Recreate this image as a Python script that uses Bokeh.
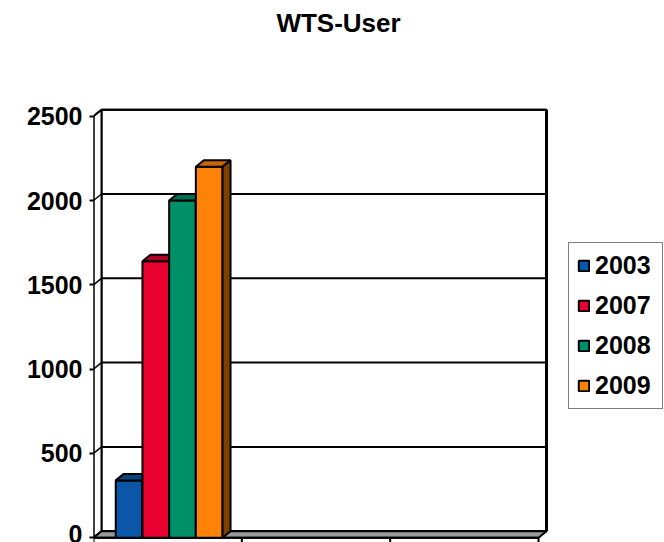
from bokeh.plotting import figure
from bokeh.models import Range1d, FixedTicker, Legend, LegendItem, Label
from bokeh.embed import file_html
from bokeh.resources import INLINE

# ---- data ----
title_text = "WTS-User"
years = ["2003", "2007", "2008", "2009"]
users = [340, 1640, 2000, 2200]
y_ticks = [0, 500, 1000, 1500, 2000, 2500]
n_groups = 3
y_max = 2500

# ---- styles ----
front_colors = ["#0B56A6", "#E8002F", "#009068", "#FF8308"]
top_colors = ["#08427F", "#B00024", "#006E50", "#C86506"]
side_colors = ["#052B55", "#75001A", "#004834", "#7F3F00"]
FONT = "Liberation Sans"

W, H = 664, 542
LEFT = 93
FW = W - LEFT
KX = 445 / 3            # px per category
KY = 421.5 / 2500       # px per unit
BOTTOM_PAD = 4.8
dx = 8 / KX             # depth offsets in data units
dy = 6.5 / KY
BW = 0.18               # bar width (category units)
CLUSTER_CENTER = 0.51

p = figure(width=W, height=H, output_backend="svg", toolbar_location=None, tools="",
           x_range=Range1d(0, FW / KX),
           y_range=Range1d(-BOTTOM_PAD / KY, (H - BOTTOM_PAD) / KY),
           x_axis_location=None,
           min_border_left=LEFT, min_border_right=0, min_border_top=0, min_border_bottom=0)
p.grid.visible = False
p.outline_line_color = None
p.background_fill_color = "white"
p.border_fill_color = "white"

# back wall
p.quad(left=[dx], right=[n_groups + dx], bottom=[dy], top=[y_max + dy],
       fill_color="white", line_color="black", line_width=2)
# gridlines on back wall
p.segment(x0=[dx] * len(y_ticks), x1=[n_groups + dx] * len(y_ticks),
          y0=[t + dy for t in y_ticks], y1=[t + dy for t in y_ticks],
          line_color="black", line_width=2)
# right edge of back wall (thicker)
p.segment(x0=[n_groups + dx], x1=[n_groups + dx], y0=[dy], y1=[y_max + dy],
          line_color="black", line_width=3)
# left wall
p.patch([0, dx, dx, 0], [0, dy, y_max + dy, y_max],
        fill_color="white", line_color="black", line_width=2)
p.segment(x0=[0] * len(y_ticks), x1=[dx] * len(y_ticks),
          y0=y_ticks, y1=[t + dy for t in y_ticks],
          line_color="black", line_width=1.5)
# floor
p.patch([0, n_groups, n_groups + dx, dx], [0, 0, dy, dy],
        fill_color="#9a9a9a", line_color="black", line_width=2)
# front axis lines
p.segment(x0=[0], x1=[0], y0=[0], y1=[y_max], line_color="black", line_width=2)
p.segment(x0=[0], x1=[n_groups], y0=[0], y1=[0], line_color="black", line_width=2)
# category boundary ticks
p.segment(x0=list(range(n_groups + 1)), x1=list(range(n_groups + 1)),
          y0=[0] * (n_groups + 1), y1=[-5 / KY] * (n_groups + 1),
          line_color="black", line_width=2)

# bars (only first category has data)
items = []
start = CLUSTER_CENTER - BW * len(years) / 2
for i, (yr, v) in enumerate(zip(years, users)):
    x0 = start + i * BW
    x1 = x0 + BW
    r = p.quad(left=[x0], right=[x1], bottom=[0], top=[v],
               fill_color=front_colors[i], line_color="black", line_width=2)
    p.patch([x0, x0 + dx, x1 + dx, x1], [v, v + dy, v + dy, v],
            fill_color=top_colors[i], line_color="black", line_width=2)
    p.patch([x1, x1 + dx, x1 + dx, x1], [0, dy, v + dy, v],
            fill_color=side_colors[i], line_color="black", line_width=2)
    items.append(LegendItem(label=yr, renderers=[r]))

legend = Legend(items=items, location=(475, 133), orientation="vertical",
                glyph_width=13, glyph_height=13, label_standoff=5,
                label_width=59,
                padding=8, spacing=11, margin=0,
                border_line_color="black", border_line_width=1.5,
                background_fill_color="white", background_fill_alpha=1,
                label_text_font=FONT, label_text_font_style="bold",
                label_text_font_size="25px", label_text_color="black")
p.add_layout(legend)

# y axis
ax = p.yaxis[0]
ax.ticker = FixedTicker(ticks=y_ticks)
ax.axis_line_color = None
ax.major_tick_out = 4
ax.major_tick_in = 0
ax.major_tick_line_width = 2
ax.major_tick_line_color = "black"
ax.minor_tick_line_color = None
ax.major_label_standoff = 7
ax.major_label_text_font = FONT
ax.major_label_text_font_size = "25px"
ax.major_label_text_font_style = "bold"
ax.major_label_text_color = "black"

# title
p.add_layout(Label(x=(338 - 93) / KX, y=(537.2 - 22) / KY, text=title_text,
                   text_align="center", text_baseline="middle",
                   text_font=FONT, text_font_size="26px", text_font_style="bold",
                   text_color="black"))

open("out.html", "w").write(file_html(p, INLINE))
